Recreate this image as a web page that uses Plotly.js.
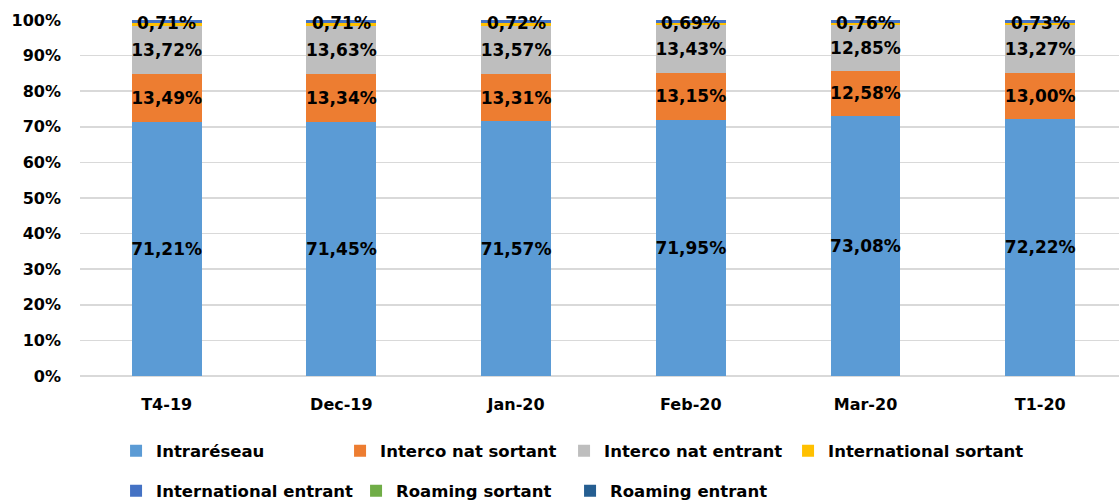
<!DOCTYPE html>
<html>
<head>
<meta charset="utf-8">
<script src="https://cdn.plot.ly/plotly-3.0.1.min.js"></script>
<style>html,body{margin:0;padding:0;background:#fff;}#chart{width:1119px;height:503px;}</style>
</head>
<body>
<div id="chart"></div>
<script>
var categories = ['T4-19', 'Dec-19', 'Jan-20', 'Feb-20', 'Mar-20', 'T1-20'];
var intrareseau = [71.21, 71.45, 71.57, 71.95, 73.08, 72.22];
var intercoSortant = [13.49, 13.34, 13.31, 13.15, 12.58, 13.00];
var intercoEntrant = [13.72, 13.63, 13.57, 13.43, 12.85, 13.27];
var internationalSortant = [0.71, 0.71, 0.72, 0.69, 0.76, 0.73];
var internationalEntrant = [0.80, 0.80, 0.76, 0.71, 0.66, 0.71];
var roamingSortant = [0.02, 0.02, 0.02, 0.02, 0.02, 0.02];
var roamingEntrant = [0.05, 0.05, 0.05, 0.05, 0.05, 0.05];

var seriesNames = ['Intraréseau', 'Interco nat sortant', 'Interco nat entrant', 'International sortant',
                   'International entrant', 'Roaming sortant', 'Roaming entrant'];
var seriesValues = [intrareseau, intercoSortant, intercoEntrant, internationalSortant,
                    internationalEntrant, roamingSortant, roamingEntrant];
var colors = ['#5B9BD5', '#ED7D31', '#BEBEBE', '#FFC000', '#4472C4', '#70AD47', '#255E91'];
var legendWidths = [179, 179, 179, 215, 195, 169, 179];

var FONT = 'DejaVu Sans, sans-serif';
function fmt(v) { return v.toFixed(2).replace('.', ',') + '%'; }

var traces = seriesNames.map(function (name, i) {
  var labelled = i < 3;
  return {
    type: 'bar',
    name: name,
    x: categories,
    y: seriesValues[i],
    marker: { color: colors[i], line: { width: 0 } },
    text: labelled ? seriesValues[i].map(fmt) : undefined,
    textposition: labelled ? 'inside' : 'none',
    insidetextanchor: 'middle',
    textangle: 0,
    constraintext: 'none',
    insidetextfont: { family: FONT, size: 17, color: '#000', weight: 'bold' },
    hoverinfo: 'none',
    legend: i < 4 ? 'legend' : 'legend2',
    legendwidth: legendWidths[i]
  };
});

var annotations = categories.map(function (c, j) {
  var base = intrareseau[j] + intercoSortant[j] + intercoEntrant[j];
  return {
    x: c, y: base + internationalSortant[j] / 2 + 0.3,
    xref: 'x', yref: 'y',
    text: fmt(internationalSortant[j]),
    showarrow: false,
    yanchor: 'middle',
    font: { family: FONT, size: 17, color: '#000', weight: 'bold' }
  };
});

var legendCommon = {
  orientation: 'h',
  xanchor: 'left',
  yanchor: 'middle',
  xref: 'paper',
  yref: 'container',
  entrywidthmode: 'pixels',
  entrywidth: 179,
  traceorder: 'normal',
  font: { family: FONT, size: 16.5, color: '#000', weight: 'bold' },
  bgcolor: 'rgba(0,0,0,0)'
};

var layout = {
  width: 1119,
  height: 503,
  margin: { l: 80, r: 0, t: 20, b: 127, pad: 0, autoexpand: false },
  paper_bgcolor: '#fff',
  plot_bgcolor: '#fff',
  barmode: 'stack',
  bargap: 0.6,
  showlegend: true,
  font: { family: FONT, color: '#000' },
  xaxis: {
    type: 'category',
    range: [-0.496, 5.451],
    showgrid: false,
    showline: false,
    zeroline: false,
    ticks: '',
    ticklabelstandoff: 17,
    tickfont: { family: FONT, size: 16, color: '#000', weight: 'bold' },
    fixedrange: true
  },
  yaxis: {
    range: [0, 100],
    dtick: 10,
    tick0: 0,
    ticksuffix: '%',
    showgrid: true,
    gridcolor: '#D9D9D9',
    gridwidth: 1.5,
    zeroline: true,
    zerolinecolor: '#D9D9D9',
    zerolinewidth: 1.5,
    showline: false,
    ticks: '',
    ticklabelstandoff: 18,
    tickfont: { family: FONT, size: 16, color: '#000', weight: 'bold' },
    fixedrange: true
  },
  legend: Object.assign({}, legendCommon, { x: 0.0347, y: 0.1034 }),
  legend2: Object.assign({}, legendCommon, { x: 0.0347, y: 0.0239 }),
  annotations: annotations
};

Plotly.newPlot('chart', traces, layout, { displayModeBar: false, staticPlot: true });
</script>
</body>
</html>
